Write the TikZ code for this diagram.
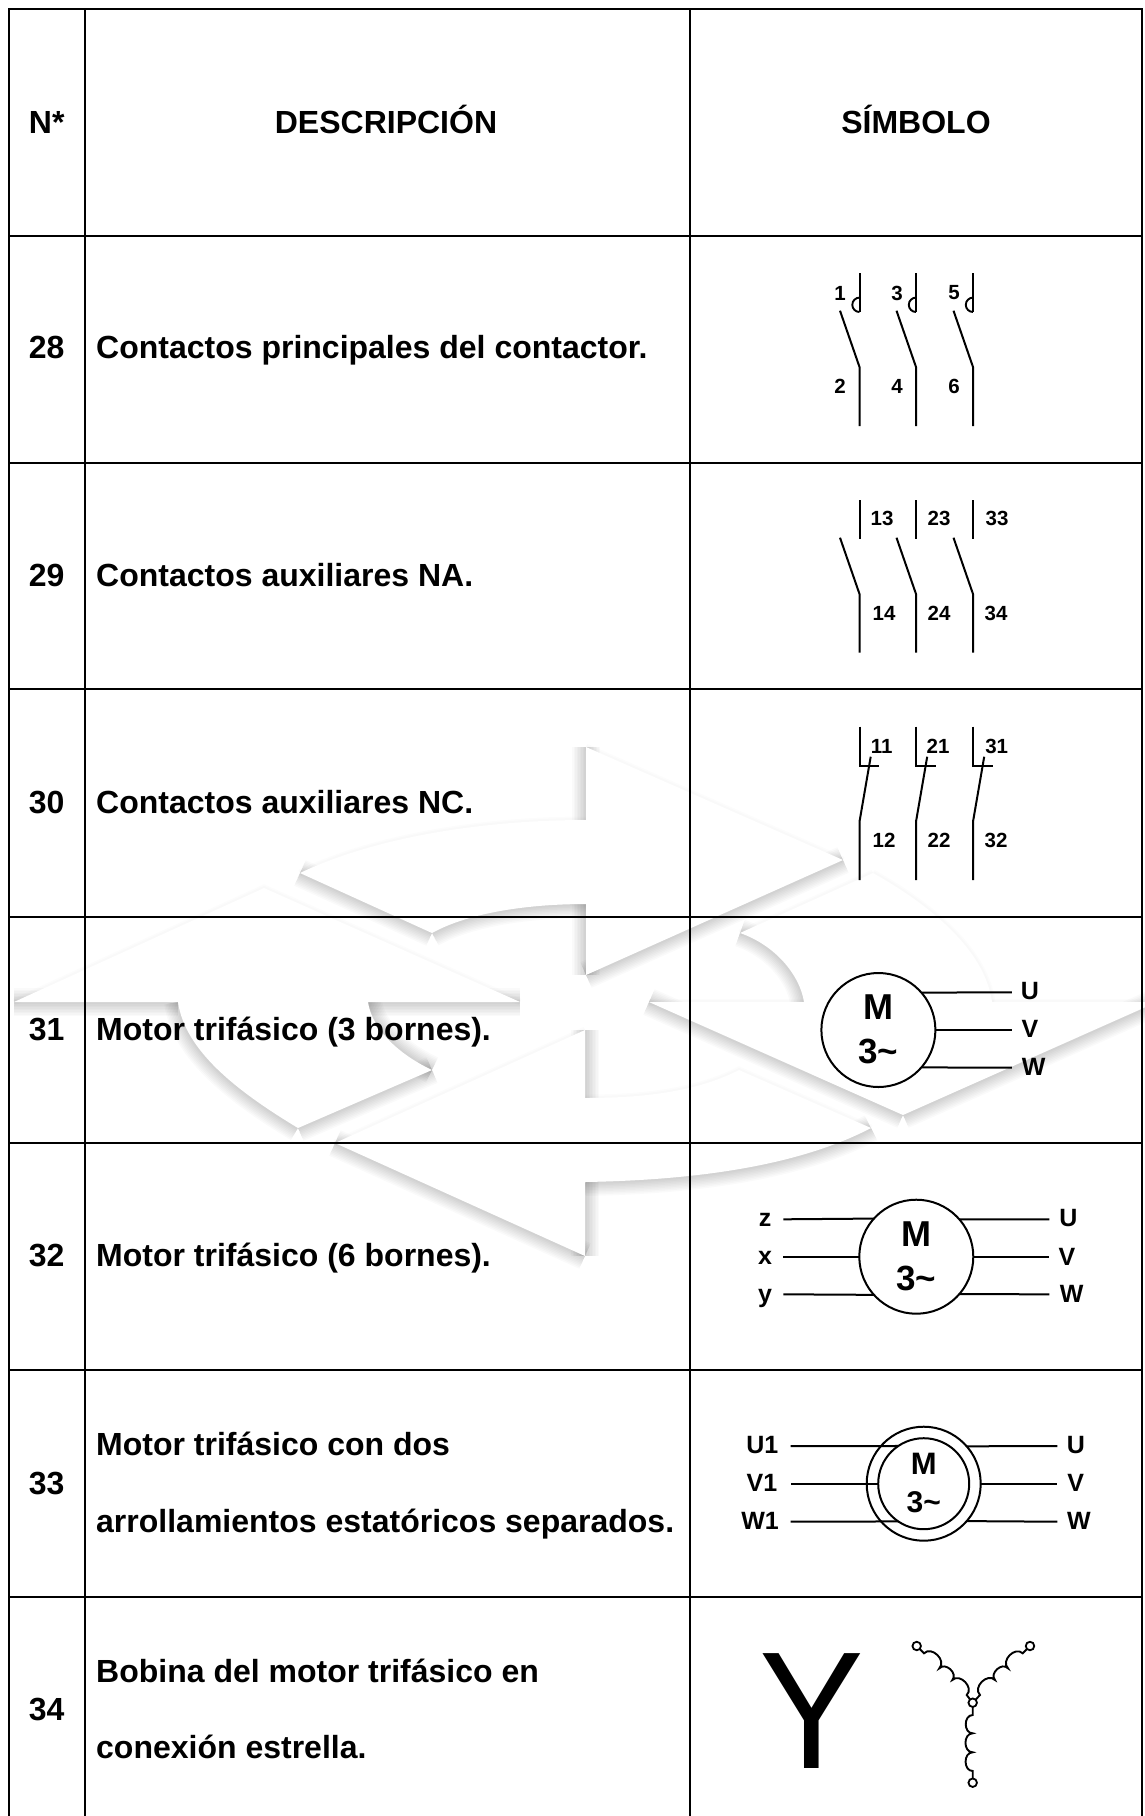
\documentclass[tikz,border=0pt]{standalone}
\usepackage{fontspec}
\setmainfont{Liberation Sans}
\usetikzlibrary{calc}
\newcommand{\softshadow}[1]{\foreach \w in {28,25,22,19,16,13,10,7,4}{\path[draw=black,draw opacity=.018,line width=\w pt] #1;}}
\newcommand{\faintedge}[1]{\foreach \w in {7,4}{\path[draw=black,draw opacity=.012,line width=\w pt] #1;}}
\tikzset{
  grid/.style={line width=2.4pt,black},
  wire/.style={line width=2pt,black},
  thinwire/.style={line width=1.9pt,black},
  lab/.style={font=\bfseries\fontsize{20.5}{24}\selectfont,anchor=center,inner sep=0pt},
  term/.style={font=\bfseries\fontsize{25}{30}\selectfont,anchor=base,inner sep=0pt},
  body/.style={font=\bfseries\fontsize{32}{38}\selectfont,anchor=base west,inner sep=0pt},
  num/.style={font=\bfseries\fontsize{32}{38}\selectfont,anchor=base,inner sep=0pt},
  motor/.style={circle,draw,line width=2pt,minimum size=114pt,inner sep=0pt,outer sep=0pt},
  motorin/.style={circle,draw,line width=2pt,minimum size=91pt,inner sep=0pt,outer sep=0pt},
  mm/.style={font=\bfseries\fontsize{36}{40}\selectfont,anchor=base,inner sep=0pt},
  tt/.style={font=\bfseries\fontsize{35}{40}\selectfont,anchor=base,inner sep=0pt},
  pin/.style={circle,draw,line width=1.8pt,minimum size=8.5pt,inner sep=0pt,outer sep=0pt,fill=white},
}
\begin{document}
\begin{tikzpicture}[x=1pt,y=-1pt]
\useasboundingbox (0,0) rectangle (1144,1816);
\fill[white] (0,0) rectangle (1144,1816);
% ---- watermark: soft shadows
\softshadow{(586,747) -- (586,820)}
\softshadow{(586,904) -- (586,975)}
\softshadow{(843,860) -- (586,975)}
\softshadow{(300,873) -- (432,933)}
\softshadow{(432,933) .. controls (470,912) and (530,904) .. (586,904)}
\softshadow{(14,1002) -- (178,1002)}
\softshadow{(368,1002) -- (520,1002)}
\softshadow{(178,1002) .. controls (185,1050) and (235,1090) .. (298,1128)}
\softshadow{(298,1128) -- (432,1070)}
\softshadow{(368,1002) .. controls (372,1030) and (400,1055) .. (432,1070)}
\softshadow{(649,1002) -- (903,1115)}
\softshadow{(903,1115) -- (1157,1002)}
\softshadow{(740,933) .. controls (775,945) and (800,975) .. (804,1002)}
\softshadow{(335,1143) -- (585,1256)}
\softshadow{(585,1030) -- (585,1098)}
\softshadow{(585,1182) -- (585,1256)}
\softshadow{(871,1128) .. controls (800,1165) and (700,1180) .. (585,1182)}
\faintedge{(586,747) -- (843,860)}
\faintedge{(300,873) .. controls (380,835) and (490,820) .. (586,820)}
\faintedge{(14,1002) -- (264,888) -- (520,1002)}
\faintedge{(649,1002) -- (804,1002)}
\faintedge{(992,1002) -- (1144,1002)}
\faintedge{(740,933) -- (873,873)}
\faintedge{(873,873) .. controls (930,905) and (985,950) .. (992,1002)}
\faintedge{(335,1143) -- (585,1030)}
\faintedge{(585,1098) .. controls (650,1098) and (700,1090) .. (739,1070) -- (871,1128)}
% ---- watermark: the four arrows
\fill[white] (586,747) -- (843,860) -- (586,975) -- (586,904) .. controls (530,904) and (470,912) .. (432,933) -- (300,873) .. controls (380,835) and (490,820) .. (586,820) -- cycle;
\fill[white] (264,888) -- (520,1002) -- (368,1002) .. controls (372,1030) and (400,1055) .. (432,1070) -- (298,1128) .. controls (235,1090) and (185,1050) .. (178,1002) -- (14,1002) -- cycle;
\fill[white] (649,1002) -- (903,1115) -- (1157,1002) -- (992,1002) .. controls (985,950) and (930,905) .. (873,873) -- (740,933) .. controls (775,945) and (800,975) .. (804,1002) -- cycle;
\fill[white] (335,1143) -- (585,1030) -- (585,1098) .. controls (650,1098) and (700,1090) .. (739,1070) -- (871,1128) .. controls (800,1165) and (700,1180) .. (585,1182) -- (585,1256) -- cycle;
% ---- grid
\foreach \xx in {9,85,690,1142}{\draw[grid] (\xx,8) -- (\xx,1816);}
\foreach \yy in {9,236,463,689,917,1143,1370,1597}{\draw[grid] (8,\yy) -- (1143,\yy);}
% ---- header
\node[num] (hn) at (46.7,133) {N*};
\node[num] (hd) at (386,133) {DESCRIPCIÓN};
\node[num] (hs) at (916,133) {SÍMBOLO};
% ---- rows
\node[num] (n28) at (46.7,358) {28};
\node[body] (d28) at (96,358) {Contactos principales del contactor.};
\node[num] (n29) at (46.7,586) {29};
\node[body] (d29) at (96,586) {Contactos auxiliares NA.};
\node[num] (n30) at (46.7,813) {30};
\node[body] (d30) at (96,813) {Contactos auxiliares NC.};
\node[num] (n31) at (46.7,1040) {31};
\node[body] (d31) at (96,1040) {Motor trifásico (3 bornes).};
\node[num] (n32) at (46.7,1266.5) {32};
\node[body] (d32) at (96,1266.5) {Motor trifásico (6 bornes).};
\node[num] (n33) at (46.7,1494) {33};
\node[body] (d33a) at (96,1455) {Motor trifásico con dos};
\node[body] (d33b) at (96,1532) {arrollamientos estatóricos separados.};
\node[num] (n34) at (46.7,1720) {34};
\node[body] (d34a) at (96,1682) {Bobina del motor trifásico en};
\node[body] (d34b) at (96,1758) {conexión estrella.};
% ---- row 28
\foreach \xx/\ta/\tb/\lx in {859.5/1/2/840,916/3/4/897,973/5/6/954}{
  \coordinate (a\ta) at (\xx,273);
  \coordinate (b\ta) at (\xx,312);
  \coordinate (c\ta) at (\xx-19.5,310.7);
  \coordinate (d\ta) at (\xx,367);
  \coordinate (e\ta) at (\xx,426);
  \draw[wire] (a\ta) -- (b\ta);
  \draw[thinwire] (b\ta) arc[start angle=270,end angle=90,radius=7.2pt];
  \draw[wire] (c\ta) -- (d\ta) -- (e\ta);
  \node[lab] (l\ta) at (\lx,293) {\ta};
  \node[lab] (l\tb) at (\lx,386) {\tb};
}
% ---- row 29
\foreach \xx/\ta/\tb/\lxa/\lxb in {859.5/13/14/882/884,916/23/24/939/939,973/33/34/997/996}{
  \coordinate (a\ta) at (\xx,500);
  \coordinate (b\ta) at (\xx,539);
  \coordinate (c\ta) at (\xx-19.5,537.7);
  \coordinate (d\ta) at (\xx,594);
  \coordinate (e\ta) at (\xx,652.7);
  \draw[wire] (a\ta) -- (b\ta);
  \draw[wire] (c\ta) -- (d\ta) -- (e\ta);
  \node[lab] (l\ta) at (\lxa,518) {\ta};
  \node[lab] (l\tb) at (\lxb,613) {\tb};
}
% ---- row 30
\foreach \xx/\ta/\tb/\lxa/\lxb in {859.5/11/12/881.7/884,916/21/22/938/939,973/31/32/996.7/996}{
  \coordinate (a\ta) at (\xx,726.7);
  \coordinate (b\ta) at (\xx,765.7);
  \coordinate (f\ta) at (\xx+19.8,765.7);
  \coordinate (c\ta) at (\xx+11.2,756.7);
  \coordinate (d\ta) at (\xx,821.7);
  \coordinate (e\ta) at (\xx,880);
  \draw[wire] (a\ta) -- (b\ta) -- (f\ta);
  \draw[wire] (c\ta) -- (d\ta) -- (e\ta);
  \node[lab] (l\ta) at (\lxa,746) {\ta};
  \node[lab] (l\tb) at (\lxb,840.7) {\tb};
}
% ---- motor 31
\node[motor] (ma) at (878.4,1030) {};
\node[mm] (maM) at (878.4,1019.3) {M};
\node[tt] (maT) at (878.4,1063) {3\textasciitilde};
\coordinate (maU) at (1011.8,992.3);
\coordinate (maV) at (1011.8,1030);
\coordinate (maW) at (1011.8,1067.7);
\draw[wire] (ma.41.4) -- (maU);
\draw[wire] (ma.east) -- (maV);
\draw[wire] (ma.-41.4) -- (maW);
\node[term] (tU1) at (1030,999) {U};
\node[term] (tV1) at (1030,1037) {V};
\node[term] (tW1) at (1033.7,1075) {W};
% ---- motor 32
\node[motor] (mb) at (916.3,1256.7) {};
\node[mm] (mbM) at (916.3,1246) {M};
\node[tt] (mbT) at (916.3,1290) {3\textasciitilde};
\coordinate (mbU) at (1049.3,1219.3);
\coordinate (mbV) at (1049.3,1256.7);
\coordinate (mbW) at (1049.3,1294.3);
\coordinate (mbz) at (783.3,1219.3);
\coordinate (mbx) at (783.3,1256.7);
\coordinate (mby) at (783.3,1294.3);
\draw[wire] (mb.41.1) -- (mbU);
\draw[wire] (mb.east) -- (mbV);
\draw[wire] (mb.-41.1) -- (mbW);
\draw[wire] (mb.138.9) -- (mbz);
\draw[wire] (mb.west) -- (mbx);
\draw[wire] (mb.-138.9) -- (mby);
\node[term] (tU2) at (1068.3,1226) {U};
\node[term] (tV2) at (1067,1265) {V};
\node[term] (tW2) at (1071.7,1302.7) {W};
\node[term] (tz) at (765,1226) {z};
\node[term] (tx) at (765,1264) {x};
\node[term] (ty) at (765,1302) {y};
% ---- motor 33
\node[motor] (mc) at (923.7,1483.7) {};
\node[motorin] (md) at (923.7,1483.7) {};
\node[font=\bfseries\fontsize{31}{36}\selectfont,anchor=base,inner sep=0pt] (mcM) at (923.7,1474) {M};
\node[font=\bfseries\fontsize{30}{36}\selectfont,anchor=base,inner sep=0pt] (mcT) at (923.7,1512.7) {3\textasciitilde};
\coordinate (mcU) at (1057.3,1446);
\coordinate (mcV) at (1057.3,1483.7);
\coordinate (mcW) at (1057.3,1521.7);
\coordinate (mcA) at (790.7,1446);
\coordinate (mcB) at (790.7,1483.7);
\coordinate (mcC) at (790.7,1521.7);
\draw[wire] (mc.41.4) -- (mcU);
\draw[wire] (mc.east) -- (mcV);
\draw[wire] (mc.-41.4) -- (mcW);
\draw[wire] (md.124) -- (mcA);
\draw[wire] (md.west) -- (mcB);
\draw[wire] (md.-124) -- (mcC);
\node[term] (tU3) at (1076,1453) {U};
\node[term] (tV3) at (1075.7,1491.7) {V};
\node[term] (tW3) at (1079,1529.3) {W};
\node[term] (tU4) at (762.3,1453) {U1};
\node[term] (tV4) at (762,1491.7) {V1};
\node[term] (tW4) at (760,1529.3) {W1};
% ---- row 34
\node[font=\fontsize{167}{175}\selectfont,anchor=base,inner sep=0pt] (bigY) at (812,1768.3) {\scalebox{.94}[1]{Y}};
\node[pin] (pc) at (972.7,1702.7) {};
\node[pin] (pl) at (916.7,1646) {};
\node[pin] (pr) at (1030,1646) {};
\node[pin] (pb) at (972.7,1782.7) {};
\coordinate (b1) at (972.7,1715);
\coordinate (b2) at (972.7,1733.3);
\coordinate (b3) at (972.7,1752.3);
\coordinate (b4) at (972.7,1771);
\draw[thinwire] (pc) -- (b1) to[bend right=90,looseness=1.3] (b2) to[bend right=90,looseness=1.3] (b3) to[bend right=90,looseness=1.3] (b4) -- (pb);
\coordinate (l1) at (924,1653.3);
\coordinate (l2) at (939.3,1668.3);
\coordinate (l3) at (952.3,1680);
\coordinate (l4) at (966.7,1695);
\draw[thinwire] (pl) -- (l1) to[bend left=90,looseness=1.3] (l2) to[bend left=90,looseness=1.3] (l3) to[bend left=90,looseness=1.3] (l4) -- (pc);
\coordinate (r1) at (1022.7,1653.3);
\coordinate (r2) at (1008,1668.3);
\coordinate (r3) at (995,1680);
\coordinate (r4) at (980,1695);
\draw[thinwire] (pr) -- (r1) to[bend right=90,looseness=1.3] (r2) to[bend right=90,looseness=1.3] (r3) to[bend right=90,looseness=1.3] (r4) -- (pc);
\end{tikzpicture}
\end{document}
